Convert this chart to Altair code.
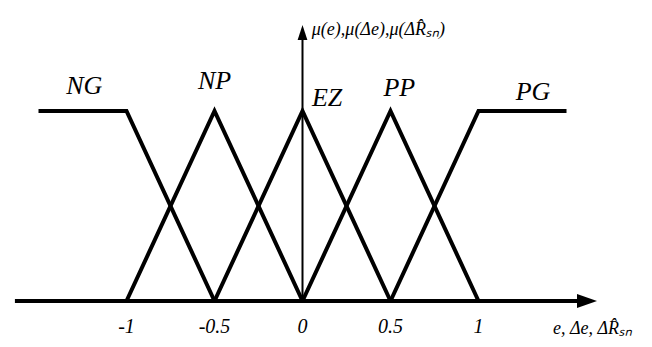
import altair as alt
import pandas as pd

# Membership functions (breakpoints)
sets = ["NG", "NP", "EZ", "PP", "PG"]
set_x = [
    [-1.5, -1.0, -0.5],
    [-1.0, -0.5, 0.0],
    [-0.5, 0.0, 0.5],
    [0.0, 0.5, 1.0],
    [0.5, 1.0, 1.5],
]
set_y = [
    [1, 1, 0],
    [0, 1, 0],
    [0, 1, 0],
    [0, 1, 0],
    [0, 1, 1],
]
# label anchors for each set name
label_x = [-1.24, -0.50, 0.14, 0.55, 1.31]
label_y = [1.13, 1.16, 1.07, 1.12, 1.10]

tick_values = [-1.0, -0.5, 0.0, 0.5, 1.0]
tick_labels = ["-1", "-0.5", "0", "0.5", "1"]

x_title = "e, \u0394e, \u0394R\u0302\u209b\u2099"
y_title = "\u03bc(e),\u03bc(\u0394e),\u03bc(\u0394R\u0302\u209b\u2099)"

rows = []
for s, xs_, ys_ in zip(sets, set_x, set_y):
    for i, (xv, yv) in enumerate(zip(xs_, ys_)):
        rows.append({"set": s, "i": i, "x": xv, "y": yv})
mf = pd.DataFrame(rows)

xs = alt.Scale(domain=[-1.6733, 1.9403], nice=False, zero=False)
ys = alt.Scale(domain=[-0.2, 1.5421], nice=False, zero=False)
X = lambda f: alt.X(f, type="quantitative", scale=xs, axis=None)
Y = lambda f: alt.Y(f, type="quantitative", scale=ys, axis=None)

FONT = "Liberation Serif"

lines = alt.Chart(mf).mark_line(color="black", strokeWidth=4, strokeJoin="miter").encode(
    x=X("x"), y=Y("y"), detail="set:N", order="i:Q"
)

xaxis = alt.Chart(pd.DataFrame({"x": [-1.634], "x2": [1.60], "y": [0.0]})).mark_rule(
    color="black", strokeWidth=4
).encode(x=X("x"), x2="x2", y=Y("y"))

yaxis = alt.Chart(pd.DataFrame({"x": [0.0], "y": [0.0], "y2": [1.38]})).mark_rule(
    color="black", strokeWidth=2
).encode(x=X("x"), y=Y("y"), y2="y2")

xarrow = alt.Chart(pd.DataFrame({"x": [1.6165], "y": [0.0]})).mark_point(
    shape="M-1,-0.7L1,0L-1,0.7Z", size=400, filled=True, color="black", opacity=1
).encode(x=X("x"), y=Y("y"))

yarrow = alt.Chart(pd.DataFrame({"x": [0.0], "y": [1.413]})).mark_point(
    shape="M-0.65,1L0,-1L0.65,1Z", size=225, filled=True, color="black", opacity=1
).encode(x=X("x"), y=Y("y"))

set_labels = alt.Chart(pd.DataFrame({"x": label_x, "y": label_y, "t": sets})).mark_text(
    font=FONT, fontStyle="italic", fontSize=26, color="black", baseline="middle", align="center"
).encode(x=X("x"), y=Y("y"), text="t:N")

ticks = alt.Chart(pd.DataFrame({"x": tick_values, "t": tick_labels, "y": [-0.137] * 5})).mark_text(
    font=FONT, fontStyle="italic", fontSize=20, color="black", baseline="middle", align="center"
).encode(x=X("x"), y=Y("y"), text="t:N")

xt = alt.Chart(pd.DataFrame({"x": [1.423], "y": [-0.147], "t": [x_title]})).mark_text(
    font=FONT, fontStyle="italic", fontSize=18, color="black", baseline="middle", align="left"
).encode(x=X("x"), y=Y("y"), text="t:N")

yt = alt.Chart(pd.DataFrame({"x": [0.053], "y": [1.426], "t": [y_title]})).mark_text(
    font=FONT, fontStyle="italic", fontSize=18, color="black", baseline="middle", align="left"
).encode(x=X("x"), y=Y("y"), text="t:N")

chart = alt.layer(lines, xaxis, yaxis, xarrow, yarrow, set_labels, ticks, xt, yt).properties(
    width=636, height=331, autosize=alt.AutoSizeParams(type="none"), padding=0,
    background="white",
).configure_view(stroke=None)

chart.save("out.html", embed_options={"renderer": "svg", "actions": False})
